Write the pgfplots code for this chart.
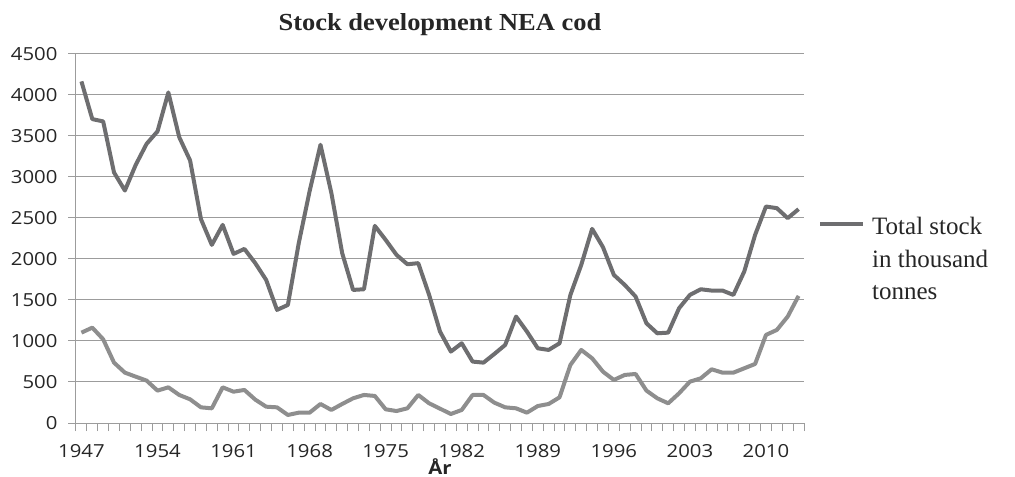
\documentclass[border=0pt]{standalone}
\usepackage{fontspec}
\setmainfont{Liberation Serif}
\newfontfamily\tickfont[FakeStretch=1.13]{Open Sans}
\newfontfamily\titlefont[FakeStretch=1.08]{Liberation Serif}
\usepackage{pgfplots}
\usepackage{pgfplotstable}
\pgfplotsset{compat=1.18}
\definecolor{darkline}{HTML}{6E6E70}
\definecolor{lightline}{HTML}{8E8E8E}
\definecolor{gridc}{HTML}{9C9C9C}

\pgfplotstableread{
year total
1947 4166
1948 3706
1949 3678
1950 3055
1951 2835
1952 3149
1953 3405
1954 3556
1955 4031
1956 3486
1957 3202
1958 2486
1959 2172
1960 2416
1961 2062
1962 2123
1963 1949
1964 1745
1965 1379
1966 1440
1967 2193
1968 2827
1969 3393
1970 2806
1971 2071
1972 1623
1973 1631
1974 2404
1975 2233
1976 2050
1977 1936
1978 1949
1979 1562
1980 1115
1981 871
1982 972
1983 749
1984 736
1985 842
1986 952
1987 1298
1988 1115
1989 911
1990 891
1991 972
1992 1562
1993 1928
1994 2368
1995 2144
1996 1806
1997 1684
1998 1542
1999 1216
2000 1094
2001 1102
2002 1399
2003 1562
2004 1631
2005 1615
2006 1615
2007 1562
2008 1847
2009 2294
2010 2640
2011 2620
2012 2498
2013 2608
}\totaltable

\pgfplotstableread{
year spawn
1947 1102
1948 1163
1949 1021
1950 736
1951 614
1952 565
1953 517
1954 395
1955 435
1956 342
1957 289
1958 191
1959 179
1960 435
1961 382
1962 403
1963 285
1964 199
1965 191
1966 98
1967 126
1968 126
1969 232
1970 159
1971 232
1972 301
1973 342
1974 330
1975 167
1976 146
1977 179
1978 342
1979 240
1980 175
1981 110
1982 159
1983 342
1984 342
1985 248
1986 191
1987 179
1988 126
1989 207
1990 232
1991 313
1992 708
1993 891
1994 789
1995 626
1996 525
1997 586
1998 598
1999 395
2000 301
2001 240
2002 362
2003 504
2004 545
2005 655
2006 614
2007 614
2008 667
2009 720
2010 1074
2011 1135
2012 1298
2013 1550
}\spawntable

\begin{document}
\begin{tikzpicture}
\path[use as bounding box] (-76bp,-54bp) rectangle (939bp,423bp);
\begin{axis}[
  at={(0,0)}, anchor=south west,
  scale only axis, width=728bp, height=369bp,
  xmin=1946.5, xmax=2013.5, ymin=0, ymax=4500,
  axis lines*=left,
  axis line style={gridc, line width=1bp},
  ytick={0,500,...,4500},
  ymajorgrids, grid style={gridc, line width=1bp},
  tick align=outside, major tick length=8bp,
  tick style={gridc, line width=1bp},
  xtick={1946.5,1947.5,...,2013.5},
  xticklabels={},
  extra x ticks={1947,1954,1961,1968,1975,1982,1989,1996,2003,2010},
  extra x tick labels={1947,1954,1961,1968,1975,1982,1989,1996,2003,2010},
  extra x tick style={major tick length=0pt},
  /pgf/number format/1000 sep={},
  /pgf/number format/assume math mode=true,
  tick label style={font=\tickfont\fontsize{18bp}{21bp}\selectfont, text=black!85},
  xticklabel style={yshift=-18bp},
  yticklabel style={xshift=-7bp},
  title={Stock development NEA cod},
  title style={font=\titlefont\bfseries\fontsize{24.5bp}{28bp}\selectfont, at={(0.5,1)}, anchor=base, yshift=18bp, text=black!85},
  xlabel={År},
  xlabel style={font=\tickfont\bfseries\fontsize{18bp}{21bp}\selectfont, at={(0.5,0)}, anchor=base, yshift=-51bp, text=black!85},
  legend style={at={(1.0192,0.572)}, anchor=north west, draw=none, fill=none,
    inner sep=0pt, nodes={inner sep=0pt, text=black!85},
    font=\fontsize{25bp}{32.5bp}\selectfont,
    /tikz/every odd column/.append style={column sep=7bp}},
  legend image code/.code={\draw[#1, line width=4bp] (0bp,0bp) -- (43bp,0bp);},
]
\addplot[darkline, line width=4bp, line join=round] table[x=year, y=total] {\totaltable};
\addlegendentry{\begin{tabular}[t]{@{}l@{}}Total stock\\in thousand\\tonnes\end{tabular}}
\addplot[lightline, line width=4bp, line join=round, forget plot] table[x=year, y=spawn] {\spawntable};
\end{axis}
\end{tikzpicture}
\end{document}
